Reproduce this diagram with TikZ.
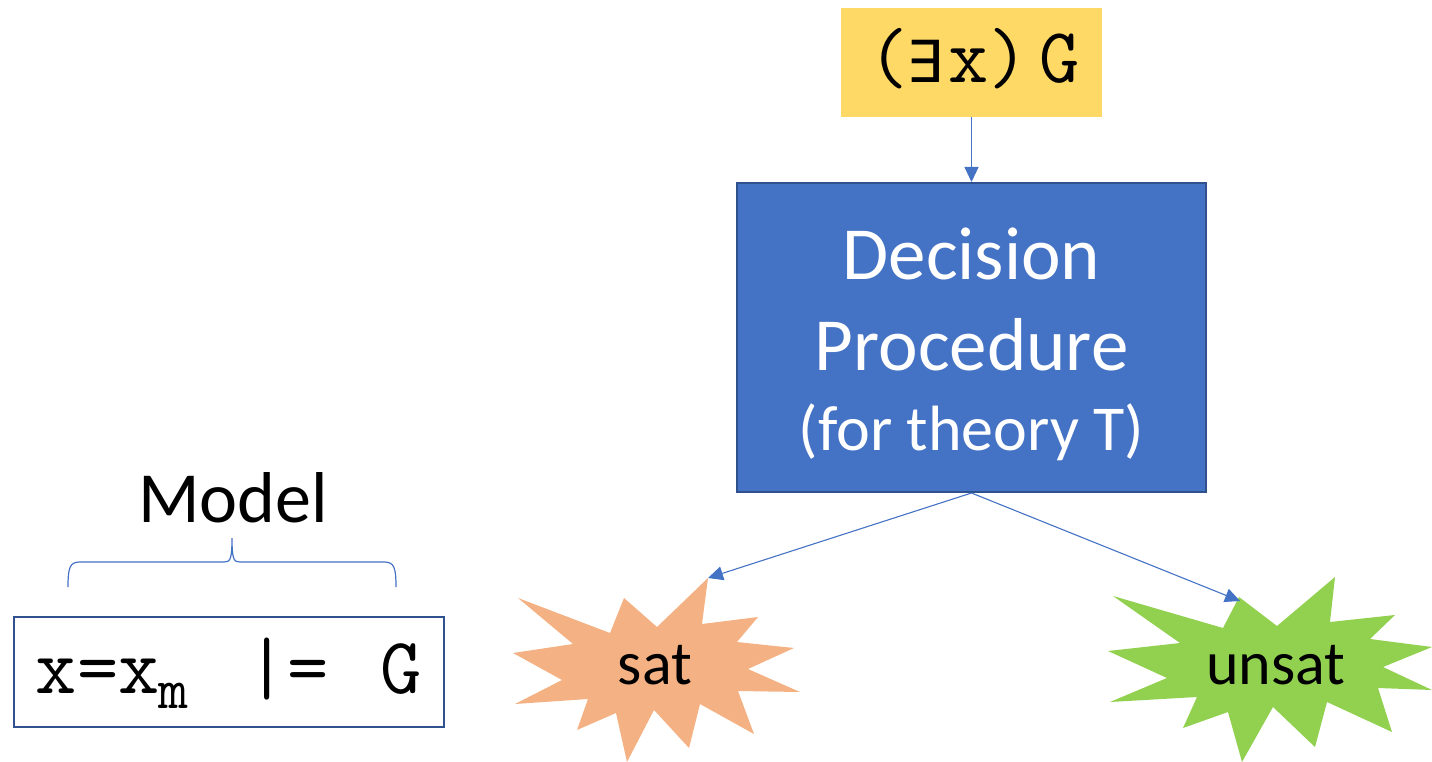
\documentclass[tikz,border=0pt]{standalone}
\usepackage{fontspec}
\setmainfont{Carlito}
\newfontfamily\symfont{DejaVu Sans}
\usetikzlibrary{arrows.meta}
\definecolor{ybox}{HTML}{FFD966}
\definecolor{bbox}{HTML}{4472C4}
\definecolor{bedge}{HTML}{2F528F}
\definecolor{orng}{HTML}{F4B183}
\definecolor{grn}{HTML}{92D050}
\tikzset{
  conn/.style={draw=bbox, line width=1.1pt, -{Triangle[length=15pt,width=14pt]}},
  lbl/.style={inner sep=0pt, text=black},
  wlbl/.style={inner sep=0pt, text=white, anchor=base},
}
\begin{document}
\begin{tikzpicture}[x=1pt,y=-1pt]
\useasboundingbox (0,0) rectangle (1432,762);
% yellow formula box
\node[fill=ybox, minimum width=261pt, minimum height=109pt, inner sep=0pt] (q) at (971.5,62.5) {};
\node[lbl, anchor=base] (qtext) at (974,83)
  {\fontsize{78}{78}\selectfont\ttfamily (\kern-2pt{\symfont\fontsize{58}{58}\selectfont ∃}\kern5pt x)\kern11pt G};
% decision procedure box
\node[fill=bbox, draw=bedge, line width=2pt, minimum width=469pt, minimum height=309pt, inner sep=0pt] (dp) at (971.5,337.5) {};
\node[wlbl, font=\fontsize{75}{75}\selectfont] (dpA) at (971.5,279) {Decision};
\node[wlbl, font=\fontsize{75}{75}\selectfont] (dpB) at (971.5,370) {Procedure};
\node[wlbl, font=\fontsize{64}{64}\selectfont] (dpC) at (971.5,450) {(for theory T)};
\draw[conn] (q.south) -- (dp.north);
% explosions
\fill[orng] (708,578) -- (702,624) -- (758,617) -- (737,642) -- (794,648) -- (748,669) -- (800,692)
  -- (738,691) -- (754,734) -- (700,704) -- (689,748) -- (654,710) -- (627,762) -- (616,713)
  -- (577,730) -- (588,699) -- (515,704) -- (562,680) -- (513,653) -- (573,644) -- (518,598)
  -- (610,633) -- (624,598) -- (657,627) -- cycle;
\coordinate (sattip) at (708,578);
\node[lbl, font=\fontsize{62}{62}\selectfont] (sat) at (655,665) {sat};
\fill[grn] (1335,577) -- (1330,622) -- (1395,615) -- (1370,639) -- (1432,647) -- (1383,667)
  -- (1432,690) -- (1378,688) -- (1392,732) -- (1327,702) -- (1315,747) -- (1273,707)
  -- (1242,762) -- (1228,712) -- (1183,728) -- (1197,697) -- (1110,702) -- (1167,678)
  -- (1108,651) -- (1180,643) -- (1113,596) -- (1223,628) -- (1239,597) -- (1277,626) -- cycle;
\coordinate (unsattip) at (1240,601);
\node[lbl, font=\fontsize{62}{62}\selectfont] (unsat) at (1276,665) {unsat};
\draw[conn] (dp.south) -- (sattip);
\draw[conn] (dp.south) -- (unsattip);
% model
\node[lbl, font=\fontsize{72}{72}\selectfont] (model) at (233,498) {Model};
\draw[bbox, line width=1.2pt] (68,587) .. controls (68,567) and (70,562) .. (80,562) -- (224,562)
  .. controls (230,562) and (232,560) .. (232,538) .. controls (232,560) and (234,562) .. (240,562)
  -- (384,562) .. controls (394,562) and (396,567) .. (396,587);
\node[draw=bedge, line width=2pt, fill=white, minimum width=430pt, minimum height=110pt, inner sep=0pt] (mbox) at (229,672) {};
\node[lbl, anchor=base] (mtext) at (229,693)
  {\fontsize{80}{80}\selectfont\ttfamily x=x\kern-1pt\raisebox{-15pt}{\fontsize{58}{58}\selectfont m}\hspace{58pt}|=\hspace{52pt}G};
\end{tikzpicture}
\end{document}
